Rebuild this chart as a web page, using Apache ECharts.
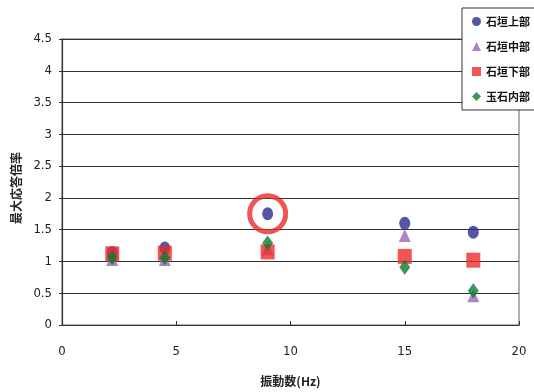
<!DOCTYPE html>
<html>
<head>
<meta charset="utf-8">
<script src="https://cdn.jsdelivr.net/npm/echarts@6/dist/echarts.min.js"></script>
<style>
  html, body { margin: 0; padding: 0; background: #fff; }
  #chart { width: 534px; height: 392px; }
</style>
</head>
<body>
<div id="chart"></div>
<script>
// Frequency (Hz) of each measurement
const freqs = [2.2, 4.5, 9, 15, 18];

// Maximum response magnification per location
const upperWall = [1.14, 1.21, 1.75, 1.6, 1.46];   // 石垣上部
const middleWall = [1.03, 1.03, 1.2, 1.41, 0.46];  // 石垣中部
const lowerWall = [1.12, 1.13, 1.15, 1.08, 1.02];  // 石垣下部
const innerFill = [1.06, 1.06, 1.29, 0.91, 0.54];  // 玉石内部

const seriesNames = ['石垣上部', '石垣中部', '石垣下部', '玉石内部'];
const yTicks = [0, 0.5, 1, 1.5, 2, 2.5, 3, 3.5, 4, 4.5];
const xTicks = [0, 5, 10, 15, 20];

// Highlighted point: 石垣上部 at 9 Hz
const highlight = [[9, 1.75]];

const pairs = (ys) => freqs.map((f, i) => [f, ys[i]]);

const numFont = "'DejaVu Sans Condensed', 'Liberation Sans Narrow', sans-serif";
const jpFont = "'Noto Sans CJK JP', sans-serif";

const chart = echarts.init(document.getElementById('chart'), null, { renderer: 'canvas' });
chart.setOption({
  backgroundColor: '#fff',
  animation: false,
  grid: { left: 62, right: 15, top: 39, bottom: 67, show: true, borderColor: '#999', borderWidth: 1.5 },
  xAxis: {
    type: 'value', min: xTicks[0], max: xTicks[xTicks.length - 1], interval: 5,
    name: '振動数(Hz)', nameLocation: 'middle', nameGap: 50,
    nameTextStyle: { fontFamily: jpFont, fontSize: 12, color: '#222', fontWeight: 'bold' },
    axisLine: { lineStyle: { color: '#333', width: 1.2 } },
    axisTick: { inside: true, length: 4, lineStyle: { color: '#333' } },
    axisLabel: { margin: 20, fontFamily: numFont, fontSize: 13, color: '#222' },
    splitLine: { show: false }
  },
  yAxis: {
    type: 'value', min: yTicks[0], max: yTicks[yTicks.length - 1], interval: 0.5,
    name: '最大応答倍率', nameLocation: 'middle', nameGap: 40, nameRotate: 90,
    nameTextStyle: { fontFamily: jpFont, fontSize: 12, color: '#222', fontWeight: 'bold', padding: [0, 0, 0, -12] },
    axisLine: { show: true, lineStyle: { color: '#333', width: 1.2 } },
    axisTick: { show: true, length: 3, lineStyle: { color: '#333' } },
    axisLabel: { margin: 10, fontFamily: numFont, fontSize: 13, color: '#222' },
    splitLine: { show: true, lineStyle: { color: '#333', width: 1.2 } }
  },
  legend: {
    orient: 'vertical', left: 462, top: 8,
    data: seriesNames,
    itemWidth: 9, itemHeight: 9, itemGap: 14,
    padding: [8, 30, 8, 10],
    backgroundColor: '#fff', borderColor: '#333', borderWidth: 1,
    textStyle: { fontFamily: jpFont, fontSize: 11, color: '#111', fontWeight: 'bold' }
  },
  series: [
    { name: seriesNames[0], type: 'scatter', data: pairs(upperWall), symbol: 'circle', symbolSize: [11, 13],
      itemStyle: { color: '#2b2d8c' }, z: 3 },
    { name: seriesNames[1], type: 'scatter', data: pairs(middleWall), symbol: 'triangle', symbolSize: [12, 13],
      itemStyle: { color: '#9a67b5' }, z: 2 },
    { name: seriesNames[2], type: 'scatter', data: pairs(lowerWall), symbol: 'rect', symbolSize: [14, 15],
      itemStyle: { color: '#ee2a2a' }, z: 4 },
    { name: seriesNames[3], type: 'scatter', data: pairs(innerFill), symbol: 'diamond', symbolSize: [11, 15],
      itemStyle: { color: '#0d7a30' }, z: 5 },
    { name: 'highlight', type: 'scatter', data: highlight, symbol: 'circle', symbolSize: 36,
      itemStyle: { color: 'rgba(0,0,0,0)', borderColor: '#ec2a2a', borderWidth: 5 },
      silent: true, z: 6, legendHoverLink: false }
  ]
});
</script>
</body>
</html>
